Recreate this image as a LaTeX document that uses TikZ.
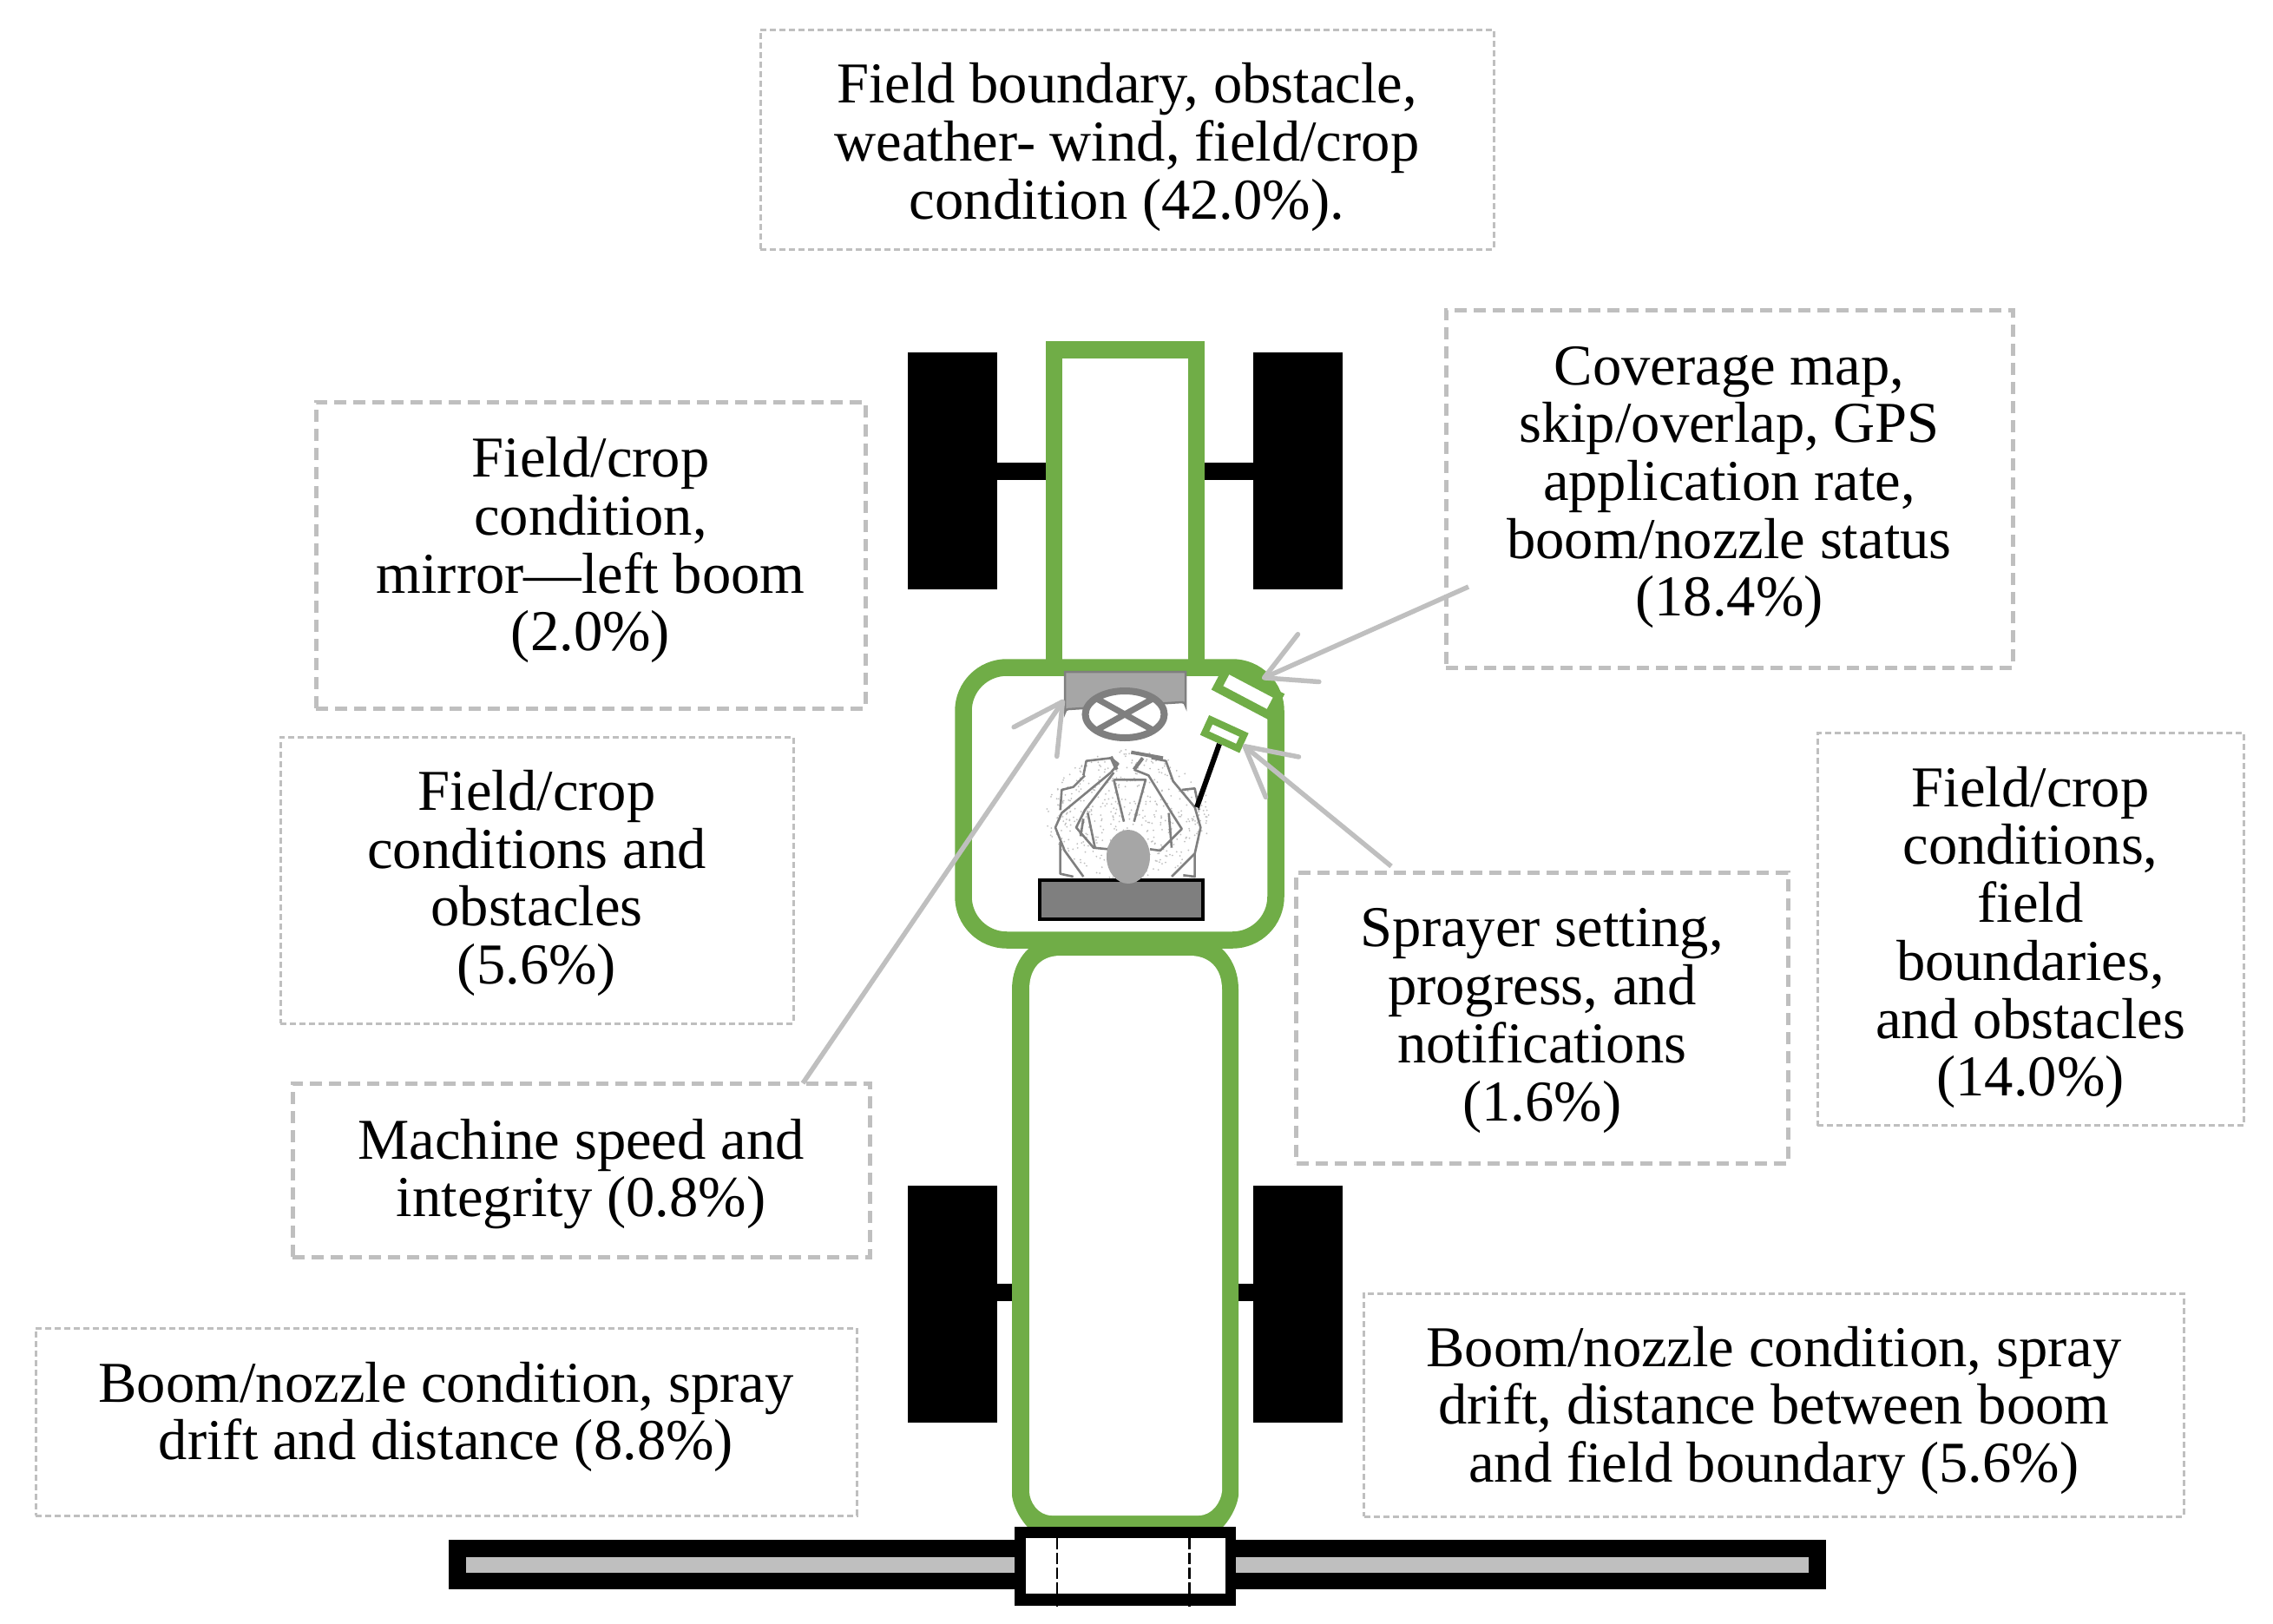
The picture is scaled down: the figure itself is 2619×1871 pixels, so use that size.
\documentclass[tikz,border=0pt]{standalone}
\usepackage{fontspec}
\setmainfont{Liberation Serif}
\usetikzlibrary{arrows.meta}
\definecolor{machgreen}{HTML}{70AD47}
\definecolor{lightg}{HTML}{BFBFBF}
\definecolor{midg}{HTML}{A6A6A6}
\definecolor{darkg}{HTML}{7F7F7F}
\newcommand{\boxtxt}[2]{\raisebox{#1pt}[0pt][0pt]{\begin{tabular}[t]{@{}c@{}}#2\end{tabular}}}
\tikzset{
  infobase/.style={rectangle,draw=lightg,inner sep=0pt,outer sep=0pt,text=black,
    font=\fontsize{66.6}{66.7}\selectfont},
  thickbox/.style={infobase,line width=5pt,dash pattern=on 14pt off 8pt},
  thinbox/.style={infobase,line width=3pt,dash pattern=on 7pt off 4pt},
  pointer/.style={draw=lightg,line width=5.5pt,-{Straight Barb[length=56pt,width=60pt,round]}},
  greenline/.style={draw=machgreen,line width=19.5pt,fill=white},
  tiltbox/.style={rectangle,draw=machgreen,fill=white,inner sep=0pt,outer sep=0pt},
  personline/.style={draw=darkg,line width=2.6pt,line join=round},
}
\begin{document}
\begin{tikzpicture}[x=1pt,y=-1pt]
\useasboundingbox (0,0) rectangle (2619,1871);
% wheels and axles
\fill (1046,406) rectangle (1149,679);
\fill (1444,406) rectangle (1547,679);
\fill (1149,533) rectangle (1444,553);
\fill (1046,1366) rectangle (1149,1639);
\fill (1444,1366) rectangle (1547,1639);
\fill (1149,1479) rectangle (1444,1499);
% rear body, hood, cab
\fill[machgreen] (1166,1723) -- (1166,1140) .. controls (1166,1115) and (1178,1095) .. (1196,1085) -- (1397,1085) .. controls (1415,1095) and (1427,1115) .. (1427,1140) -- (1427,1723) .. controls (1425,1738) and (1415,1755) .. (1403,1765) -- (1190,1765) .. controls (1178,1755) and (1168,1738) .. (1166,1723) -- cycle;
\fill[white] (1186,1718) -- (1186,1140) .. controls (1186,1115) and (1200,1101) .. (1222,1101) -- (1371,1101) .. controls (1393,1101) and (1408,1115) .. (1408,1140) -- (1408,1718) .. controls (1407,1730) and (1397,1746) .. (1381,1746) -- (1212,1746) .. controls (1196,1746) and (1186,1730) .. (1186,1718) -- cycle;
\draw[greenline] (1214.5,403) rectangle (1378.5,770);
\draw[greenline,rounded corners=50pt] (1110,769) rectangle (1470,1083);
% boom
\fill (517,1774) rectangle (2104,1831);
\fill[lightg] (537,1794) rectangle (2084,1812);
\fill (1169,1759) rectangle (1424,1850);
\fill[white] (1182,1772) rectangle (1411.6,1836);
\draw[line width=2.5pt,dash pattern=on 13pt off 4pt] (1218,1772) -- (1218,1851);
\draw[line width=2.5pt,dash pattern=on 13pt off 4pt] (1370.5,1772) -- (1370.5,1851);
% dashboard and steering wheel
\draw[draw=darkg,fill=midg,line width=2.5pt] (1227,774) -- (1366,774) -- (1366,813) arc[start angle=0,end angle=90,radius=4pt] -- (1231,817) arc[start angle=90,end angle=180,radius=4pt] -- cycle;
\draw[draw=darkg,fill=white,line width=8pt] (1296,823) ellipse[x radius=45.5pt,y radius=27pt];
\draw[draw=darkg,line width=7pt] (1262,804) -- (1330,842) (1330,804) -- (1262,842);
% operator, drawn in the coordinates of a 3x crop of the cab
\begin{scope}[shift={(1080,730)},scale=1/3]
  \pgfmathsetseed{11}
  \fill[darkg!50]
    \foreach \i in {1,...,520}{
      \pgfextra{\pgfmathsetmacro{\rr}{sqrt(rnd)}\pgfmathsetmacro{\aa}{360*rnd}
      \pgfmathsetmacro{\px}{660+285*\rr*cos(\aa)}\pgfmathsetmacro{\py}{625+225*\rr*sin(\aa)}}
      (\px,\py) circle[radius=3pt]};
  \draw[personline] (600,480) -- (430,620) -- (408,670) -- (440,750) -- (505,840);
  \draw[personline] (505,490) -- (515,440) -- (600,430) -- (625,450) -- (600,480);
  \draw[personline] (425,610) -- (430,540) -- (470,530) -- (510,490);
  \draw[personline] (425,720) -- (425,830) -- (470,840);
  \draw[personline] (610,480) -- (510,610) -- (480,670) -- (540,740) -- (590,745);
  \draw[personline] (520,620) -- (545,740) (505,640) -- (495,700);
  \draw[personline] (610,505) -- (720,505) -- (680,650) (610,505) -- (645,650);
  \draw[personline] (680,470) -- (730,490) -- (810,620) -- (845,675) -- (770,750) -- (735,745);
  \draw[personline] (800,620) -- (810,740);
  \draw[personline] (740,430) -- (790,440) -- (815,510) -- (890,600) -- (910,670) -- (890,760) -- (810,840);
  \draw[personline] (845,540) -- (890,535) -- (905,610);
  \draw[personline] (890,760) -- (890,840) -- (850,835);
  \draw[personline,line width=4pt] (600,425) -- (620,470) (670,410) -- (780,430) (680,470) -- (710,430);
\end{scope}
% seat and head
\draw[draw=black,fill=darkg,line width=4.5pt] (1198,1014) rectangle (1386,1059);
\fill[midg] (1300,987) ellipse[x radius=25pt,y radius=31pt];
% display and controller
\node[tiltbox,line width=10pt,rotate=-27.8,minimum width=67pt,minimum height=25pt] (display) at (1438,797) {};
\draw[line width=6pt] (1405,857) -- (1379,930);
\node[tiltbox,line width=8pt,rotate=-24.6,minimum width=42pt,minimum height=17pt] (controller) at (1410.7,845.7) {};
% information boxes
\node[thinbox,minimum width=845pt,minimum height=253pt] (outside) at (1298.5,160.5)
  {\boxtxt{42}{Field boundary, obstacle,\\weather- wind, field/crop\\condition (42.0\%).}};
\node[thickbox,minimum width=633pt,minimum height=353pt] (mirror) at (680.5,639.5)
  {\boxtxt{90}{Field/crop\\condition,\\mirror—left boom\\(2.0\%)}};
\node[thinbox,minimum width=591pt,minimum height=330pt] (leftwin) at (618.5,1014)
  {\boxtxt{80.5}{Field/crop\\conditions and\\obstacles\\(5.6\%)}};
\node[thickbox,minimum width=665pt,minimum height=200pt] (speed) at (669.5,1348)
  {\boxtxt{13}{Machine speed and\\integrity (0.8\%)}};
\node[thinbox,minimum width=946pt,minimum height=216pt] (rearleft) at (514,1638)
  {\boxtxt{23}{Boom/nozzle condition, spray\\drift and distance (8.8\%)}};
\node[thickbox,minimum width=653pt,minimum height=412pt] (coverage) at (1992.5,563)
  {\boxtxt{120}{Coverage map,\\skip/overlap, GPS\\application rate,\\boom/nozzle status\\(18.4\%)}};
\node[thickbox,minimum width=566.5pt,minimum height=335.5pt] (sprayer) at (1776.75,1172.75)
  {\boxtxt{82}{Sprayer setting,\\progress, and\\notifications\\(1.6\%)}};
\node[thinbox,minimum width=491pt,minimum height=452.5pt] (rightwin) at (2339.5,1070.25)
  {\boxtxt{141.25}{Field/crop\\conditions,\\field\\boundaries,\\and obstacles\\(14.0\%)}};
\node[thinbox,minimum width=944.4pt,minimum height=257pt] (rearright) at (2043.8,1618.5)
  {\boxtxt{44.5}{Boom/nozzle condition, spray\\drift, distance between boom\\and field boundary (5.6\%)}};
% pointers
\coordinate (covFrom) at (1692,676);
\coordinate (covTip) at (1454,782);
\coordinate (sprFrom) at (1603,998);
\coordinate (sprTip) at (1432,858);
\coordinate (spdFrom) at (925,1248);
\coordinate (spdTip) at (1226,806);
\draw[pointer] (covFrom) -- (covTip);
\draw[pointer] (sprFrom) -- (sprTip);
\draw[pointer] (spdFrom) -- (spdTip);
\end{tikzpicture}
\end{document}
